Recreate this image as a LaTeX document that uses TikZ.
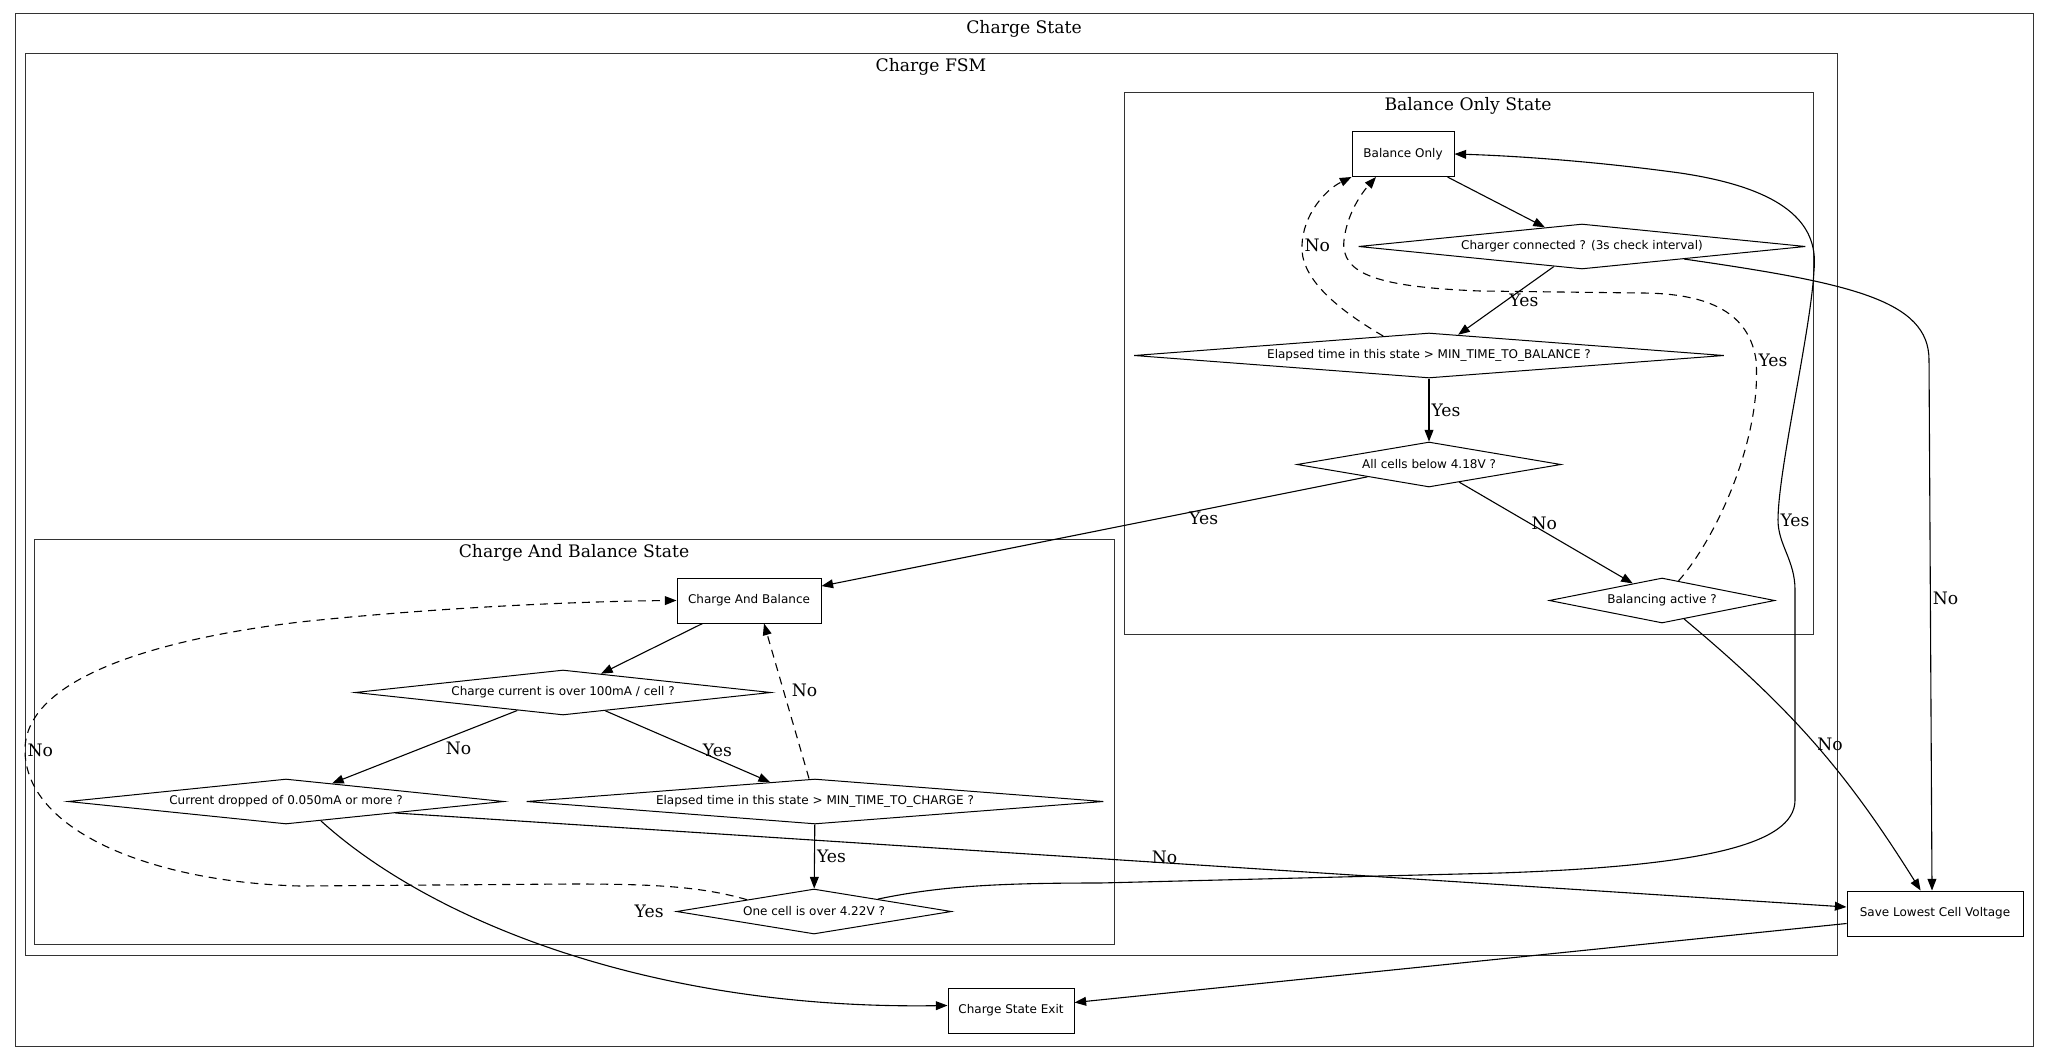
\documentclass[tikz,border=0pt]{standalone}
\usepackage{fontspec}
\setmainfont{DejaVu Serif}
\setsansfont{DejaVu Sans}
\usetikzlibrary{shapes.geometric,arrows.meta,positioning}

\begin{document}
\begin{tikzpicture}[x=0.5pt, y=-0.5pt]
    \tikzset{
      cluster/.style={draw=black!80, line width=0.5pt},
      ttl/.style={font=\fontsize{8.6}{10}\selectfont, inner sep=0pt},
      state/.style={draw, line width=0.5pt, font=\sffamily\fontsize{6}{7}\selectfont,
        minimum height=22.5pt, inner sep=0pt},
      cond/.style={draw, diamond, aspect=10, line width=0.5pt,
        font=\sffamily\fontsize{6}{7}\selectfont, minimum height=22.5pt, inner sep=0pt},
      lbl/.style={font=\fontsize{8.6}{10}\selectfont, inner sep=1pt},
      arr/.style={-{Triangle[length=5.8pt,width=4.4pt]}, line width=0.55pt},
      back/.style={arr, dash pattern=on 4pt off 3pt},
    }
    \useasboundingbox (0,0) rectangle (2048,1059);
    % ===== clusters =====
    \draw[cluster] (15,14) rectangle (2033,1046);
    \node[ttl] (cstitle) at (1024,29) {Charge State};
    \draw[cluster] (25,54) rectangle (1837,955);
    \node[ttl] (fsmtitle) at (931,67) {Charge FSM};
    \draw[cluster] (1124,93) rectangle (1813,634);
    \node[ttl] (botitle) at (1468,106) {Balance Only State};
    \draw[cluster] (34,539) rectangle (1114,944);
    \node[ttl] (cabtitle) at (574,553) {Charge And Balance State};
    % ===== Balance Only State =====
    \node[state, minimum width=51pt] (bonly) at (1403,154) {Balance Only};
    \node[cond, minimum width=223.5pt] (charger) at (1582,246.5) {Charger connected ? (3s check interval)};
    \node[cond, minimum width=295pt] (elapbal) at (1429,355.5) {Elapsed time in this state > MIN\_TIME\_TO\_BALANCE ?};
    \node[cond, minimum width=132pt] (allcells) at (1429,464.5) {All cells below 4.18V ?};
    \node[cond, minimum width=112pt] (balact) at (1662,600.5) {Balancing active ?};
    % ===== Charge And Balance State =====
    \node[state, minimum width=72pt] (cab) at (749,600.5) {Charge And Balance};
    \node[cond, minimum width=208pt] (chgcur) at (563,692.5) {Charge current is over 100mA / cell ?};
    \node[cond, minimum width=218pt] (dropped) at (286,801.5) {Current dropped of 0.050mA or more ?};
    \node[cond, minimum width=288.5pt] (elapchg) at (815,801.5) {Elapsed time in this state > MIN\_TIME\_TO\_CHARGE ?};
    \node[cond, minimum width=137.5pt] (onecell) at (814,911.5) {One cell is over 4.22V ?};
    \node[lbl, left=5pt of onecell] (onecellyes) {Yes};
    % ===== outside the FSM =====
    \node[state, minimum width=88pt] (savelow) at (1935,913.5) {Save Lowest Cell Voltage};
    \node[state, minimum width=63pt] (exitst) at (1011,1010.5) {Charge State Exit};
    % ===== edges: balance only =====
    \draw[arr] (bonly) -- (charger);
    \draw[arr] (charger) -- node[lbl, pos=0.49, right] {Yes} (elapbal);
    \draw[back] (elapbal.157) .. controls (1330,305) and (1300,275) .. (1302,245)
      node[lbl, anchor=west] {No} .. controls (1303,215) and (1325,190) .. (bonly.south west);
    \draw[arr] (elapbal) -- node[lbl, right] {Yes} (allcells);
    \draw[arr] (allcells) -- node[lbl, pos=0.49, above] {No} (balact);
    \draw[arr] (allcells) -- node[lbl, pos=0.3, below] {Yes} (cab);
    \draw[back] (balact.50) .. controls (1715,540) and (1762,440) .. (1756,360)
      node[lbl, anchor=west] {Yes} .. controls (1750,320) and (1720,293) .. (1640,293)
      -- (1480,291) .. controls (1380,287) and (1340,275) .. (1344,240)
      .. controls (1347,215) and (1360,195) .. ([xshift=-13.5pt]bonly.south);
    \draw[arr] (charger.-7) .. controls (1850,283) and (1929,300) .. (1929,360)
      -- node[lbl, pos=0.45, right] {No} ([xshift=-1.5pt]savelow.north);
    \draw[arr] (balact) to[bend left=9] node[lbl, pos=0.5, right] {No} (savelow);
    % ===== edges: charge and balance =====
    \draw[arr] (cab) -- (chgcur);
    \draw[arr] (chgcur) -- node[lbl, pos=0.4, anchor=north west] {No} (dropped);
    \draw[arr] (chgcur) -- node[lbl, pos=0.68, above] {Yes} (elapchg);
    \draw[back] ([xshift=-3pt]elapchg.north) -- node[lbl, pos=0.57, right=3pt] {No} ([xshift=7.5pt]cab.south);
    \draw[arr] (elapchg) -- node[lbl, right] {Yes} (onecell);
    \draw[back] (onecell.170) .. controls (700,886) and (650,884) .. (571,884) -- (300,886)
      .. controls (150,882) and (25,830) .. (25,750) node[lbl, anchor=west] {No}
      .. controls (25,680) and (150,640) .. (300,622) .. controls (450,606) and (600,601) .. (cab.west);
    \draw[arr] (onecell.11) .. controls (940,886) and (1000,883) .. (1100,883) -- (1500,873)
      .. controls (1700,866) and (1795,845) .. (1795,800) -- (1795,590)
      .. controls (1795,560) and (1778,545) .. (1778,520) node[lbl, anchor=west] {Yes}
      .. controls (1778,470) and (1811,330) .. (1814,270) .. controls (1818,230) and (1795,190) .. (1680,173)
      .. controls (1600,162) and (1520,156) .. (bonly.east);
    \draw[arr] (dropped.-29) .. controls (430,920) and (650,1010) .. ([yshift=2.5pt]exitst.west);
    \draw[arr] (dropped.-6) -- node[lbl, pos=0.53, above=-1.5pt] {No} ([yshift=3.25pt]savelow.west);
    \draw[arr] ([yshift=-5pt]savelow.west) -- ([yshift=4pt]exitst.east);
\end{tikzpicture}
\end{document}
